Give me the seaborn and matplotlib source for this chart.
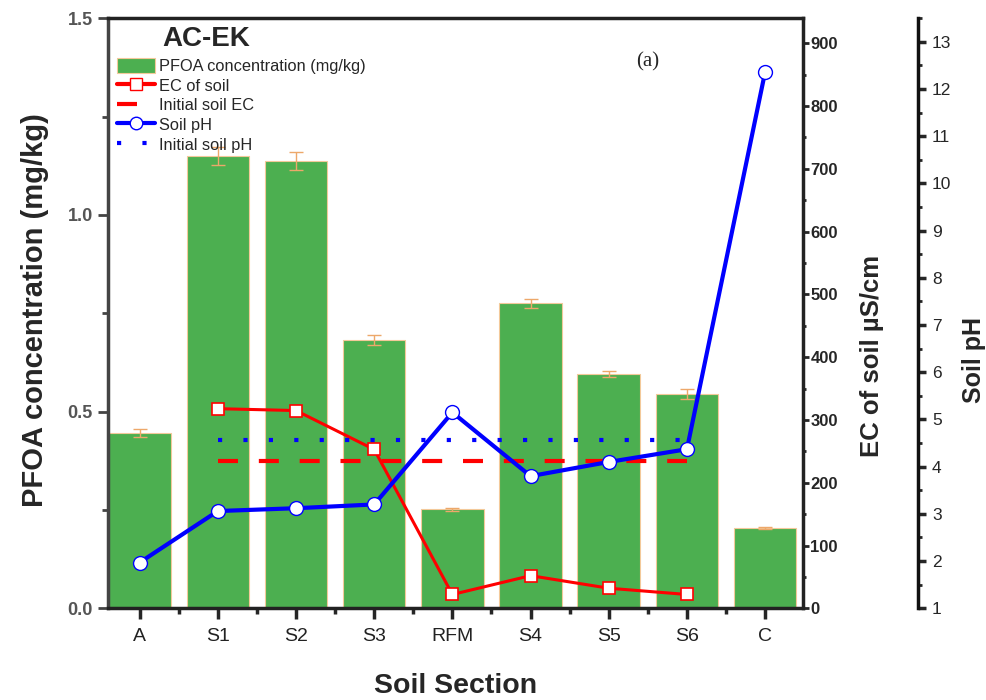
import numpy as np
import pandas as pd
import matplotlib
matplotlib.use("Agg")
import matplotlib.pyplot as plt
from matplotlib.lines import Line2D
from matplotlib.patches import Patch
from matplotlib.ticker import MultipleLocator
import seaborn as sns

# ---- data ----
sections = ["A", "S1", "S2", "S3", "RFM", "S4", "S5", "S6", "C"]
pfoa = [0.446, 1.150, 1.136, 0.682, 0.252, 0.775, 0.595, 0.545, 0.204]
pfoa_err = [0.010, 0.022, 0.023, 0.012, 0.004, 0.012, 0.008, 0.012, 0.003]

ec_sections = ["S1", "S2", "S3", "RFM", "S4", "S5", "S6"]
ec_soil = [318, 315, 253, 22, 52, 32, 22]
ec_initial = 235

ph_sections = ["A", "S1", "S2", "S3", "RFM", "S4", "S5", "S6", "C"]
ph_soil = [1.97, 3.06, 3.12, 3.20, 5.15, 3.80, 4.10, 4.37, 12.36]
ph_initial = 4.56
initial_span = ["S1", "S6"]

# ---- styling ----
sns.set_theme(style="white")
plt.rcParams["font.family"] = ["Liberation Sans", "DejaVu Sans"]

fig = plt.figure(figsize=(9.87, 7.0), dpi=100)
ax = fig.add_axes([0.109, 0.131, 0.705, 0.843])

df = pd.DataFrame({"section": sections, "pfoa": pfoa, "err": pfoa_err})
df["pos"] = np.arange(len(sections))
sns.barplot(data=df, x="section", y="pfoa", ax=ax, color="#4CAF50",
            saturation=1, width=0.8, edgecolor="#F3C99A", linewidth=0.8,
            errorbar=None, zorder=2)
ax.errorbar(df["pos"], df["pfoa"], yerr=df["err"], fmt="none",
            ecolor="#EDA86A", elinewidth=1.0, capsize=5, capthick=1.0, zorder=3)

ax.set_ylim(0, 1.5)
ax.set_xlim(-0.41, 8.49)
ax.yaxis.set_major_locator(MultipleLocator(0.5))
ax.yaxis.set_minor_locator(MultipleLocator(0.25))
ax.yaxis.set_major_formatter(matplotlib.ticker.FormatStrFormatter("%.1f"))
ax.set_xticks(np.arange(len(sections)))
ax.set_xticklabels(sections)
ax.set_xticks(np.arange(len(sections)) - 0.5, minor=True)
ax.set_xlabel("Soil Section", fontsize=20.5, fontweight="bold")
ax.set_ylabel("PFOA concentration (mg/kg)", fontsize=21, fontweight="bold")
for lab in (ax.xaxis.label, ax.yaxis.label):
    lab.set_va("center")
    lab.set_ha("center")
ax.xaxis.set_label_coords(0.5, -0.131)
ax.yaxis.set_label_coords(-0.105, 0.505)

for side in ["left", "bottom", "top"]:
    ax.spines[side].set_linewidth(2.5)
    ax.spines[side].set_color("#222222")
ax.spines["left"].set_color("#444444")
ax.spines["right"].set_visible(False)
ax.tick_params(axis="y", which="major", direction="out", length=7, width=2,
               color="#444444", labelsize=13, labelcolor="#555555", left=True)
ax.tick_params(axis="y", which="minor", direction="out", length=4, width=2,
               color="#444444", left=True)
ax.tick_params(axis="x", which="major", direction="out", length=8, width=2.5,
               labelsize=14, labelcolor="#222222", bottom=True, pad=6)
ax.tick_params(axis="x", which="minor", direction="out", length=4, width=2.5,
               bottom=True)
for t in ax.get_yticklabels():
    t.set_fontweight("bold")

# ---- EC axis ----
ax2 = ax.twinx()
ec_df = pd.DataFrame({"pos": [sections.index(s) for s in ec_sections], "ec": ec_soil})
sns.lineplot(data=ec_df, x="pos", y="ec", ax=ax2, color="#FF0000", linewidth=2.2,
             marker="s", markersize=8.5, markerfacecolor="white",
             markeredgecolor="#FF0000", markeredgewidth=1.2, sort=False, zorder=5)
span = [sections.index(s) for s in initial_span]
ax2.plot(span, [ec_initial, ec_initial], color="#FF0000", linewidth=3,
         linestyle=(0, (4.8, 5.0)), zorder=4)
ax2.set_ylim(0, 940)
ax2.yaxis.set_major_locator(MultipleLocator(100))
ax2.yaxis.set_minor_locator(MultipleLocator(50))
ax2.set_ylabel("EC of soil µS/cm", fontsize=18.5, fontweight="bold")
ax2.yaxis.label.set_va("center")
ax2.yaxis.label.set_ha("center")
ax2.yaxis.set_label_coords(1.099, 0.427)
ax2.spines["right"].set_linewidth(2.5)
ax2.spines["right"].set_color("#222222")
for side in ["left", "top", "bottom"]:
    ax2.spines[side].set_visible(False)
ax2.tick_params(axis="y", which="major", direction="out", length=4, width=2,
                labelsize=12, right=True, pad=1)
ax2.tick_params(axis="y", which="minor", direction="out", length=2, width=2, right=True)
for t in ax2.get_yticklabels():
    t.set_fontweight("bold")
ax2.set_xlabel("")

# ---- pH axis ----
ax3 = ax.twinx()
ax3.spines["right"].set_position(("axes", 1.165))
ph_df = pd.DataFrame({"pos": [sections.index(s) for s in ph_sections], "ph": ph_soil})
sns.lineplot(data=ph_df, x="pos", y="ph", ax=ax3, color="#0000FF", linewidth=3,
             marker="o", markersize=10, markerfacecolor="white",
             markeredgecolor="#0000FF", markeredgewidth=1.0, sort=False, zorder=6)
ax3.plot(span, [ph_initial, ph_initial], color="#0000FF", linewidth=3,
         linestyle=(0, (1, 5.1)), zorder=4)
ax3.set_ylim(1, 13.5)
ax3.yaxis.set_major_locator(MultipleLocator(1))
ax3.yaxis.set_minor_locator(MultipleLocator(0.5))
ax3.set_ylabel("Soil pH", fontsize=18, fontweight="bold")
ax3.yaxis.label.set_va("center")
ax3.yaxis.label.set_ha("center")
ax3.yaxis.set_label_coords(1.245, 0.42)
ax3.spines["right"].set_linewidth(2.5)
ax3.spines["right"].set_color("#111111")
for side in ["left", "top", "bottom"]:
    ax3.spines[side].set_visible(False)
ax3.tick_params(axis="y", which="major", direction="out", length=6, width=2.5,
                labelsize=12.5, right=True, pad=4)
ax3.tick_params(axis="y", which="minor", direction="out", length=3, width=2, right=True)
ax3.set_xlabel("")
ax3.set_xlim(-0.41, 8.49)
ax2.set_xlim(-0.41, 8.49)

# ---- legend & annotations ----
handles = [
    Patch(facecolor="#4CAF50", edgecolor="#F3C99A", linewidth=0.8),
    Line2D([], [], color="#FF0000", linewidth=3, marker="s", markersize=8,
           markerfacecolor="white", markeredgecolor="#FF0000"),
    Line2D([], [], color="#FF0000", linewidth=3, linestyle=(0, (4.8, 5.0))),
    Line2D([], [], color="#0000FF", linewidth=3, marker="o", markersize=9,
           markerfacecolor="white", markeredgecolor="#0000FF"),
    Line2D([], [], color="#0000FF", linewidth=3, linestyle=(0, (1, 5.1))),
]
labels = ["PFOA concentration (mg/kg)", "EC of soil", "Initial soil EC",
          "Soil pH", "Initial soil pH"]
ax3.legend(handles, labels, loc="upper left", bbox_to_anchor=(0.0, 0.95),
           frameon=False, fontsize=11.8, handlelength=2.3, handleheight=1.1,
           handletextpad=0.25, labelspacing=0.2, borderaxespad=0.2)
fig.text(0.209, 0.944, "AC-EK", fontsize=20, fontweight="bold", ha="center", va="center")
fig.text(0.656, 0.912, "(a)", fontsize=15, family=["Liberation Serif", "DejaVu Serif"],
         ha="center", va="center")

fig.savefig("out.png", dpi=100)
